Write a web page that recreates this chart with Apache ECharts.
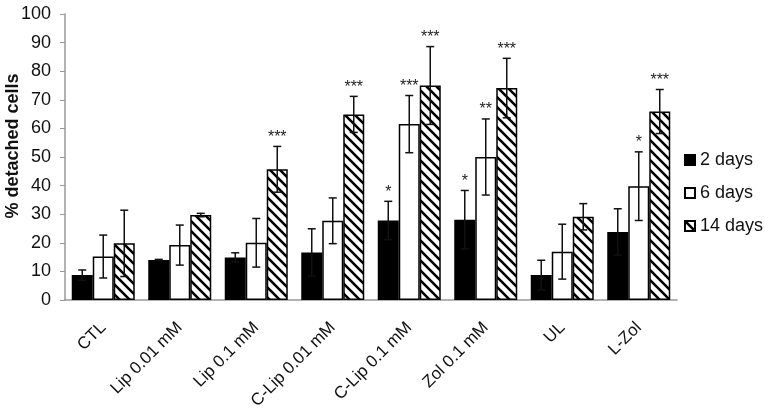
<!DOCTYPE html>
<html>
<head>
<meta charset="utf-8">
<script src="https://cdn.jsdelivr.net/npm/echarts@6/dist/echarts.min.js"></script>
<style>
  html, body { margin: 0; padding: 0; background: #fff; }
  #main { width: 765px; height: 411px; }
</style>
</head>
<body>
<div id="main"></div>
<script>
const categories = ['CTL', 'Lip 0.01 mM', 'Lip 0.1 mM', 'C-Lip 0.01 mM', 'C-Lip 0.1 mM', 'Zol 0.1 mM', 'UL', 'L-Zol'];
const yTicks = [0, 10, 20, 30, 40, 50, 60, 70, 80, 90, 100];

const days2 = [8.7, 14.0, 14.9, 16.6, 27.8, 28.1, 8.7, 23.8];
const days2Err = [1.8, 0.2, 1.6, 8.3, 6.7, 10.2, 5.2, 8.1];
const days2Stars = ['', '', '', '', '*', '*', '', ''];

const days6 = [15.2, 19.2, 20.0, 27.7, 61.5, 50.0, 16.9, 39.8];
const days6Err = [7.5, 7.0, 8.5, 8.0, 10.0, 13.3, 9.6, 12.0];
const days6Stars = ['', '', '', '', '***', '**', '', '*'];

const days14 = [19.8, 29.7, 45.7, 64.9, 75.0, 74.1, 29.1, 65.9];
const days14Err = [11.6, 0.6, 8.0, 6.3, 13.6, 10.4, 4.6, 7.7];
const days14Stars = ['', '', '***', '***', '***', '***', '', '***'];

const BAR_W = 21;

// diagonal hatch for the 14 days bars
function hatch() {
  const c = document.createElement('canvas');
  c.width = 10; c.height = 10;
  const ctx = c.getContext('2d');
  ctx.fillStyle = '#fff';
  ctx.fillRect(0, 0, 10, 10);
  ctx.strokeStyle = '#000';
  ctx.lineWidth = 2.6;
  ctx.beginPath();
  ctx.moveTo(-2, -2); ctx.lineTo(12, 12);
  ctx.moveTo(-2, 8); ctx.lineTo(2, 12);
  ctx.moveTo(8, -2); ctx.lineTo(12, 2);
  ctx.stroke();
  return c;
}

function errSeries(vals, errs, stars, offset) {
  return {
    type: 'custom',
    z: 5,
    silent: true,
    data: vals.map((v, i) => [i, v, errs[i]]),
    renderItem: function (params, api) {
      const i = api.value(0);
      const v = api.value(1);
      const e = api.value(2);
      const top = api.coord([i, v + e]);
      const bot = api.coord([i, v - e]);
      const x = top[0] + offset;
      const style = { stroke: '#111', lineWidth: 1.5 };
      const children = [
        { type: 'line', shape: { x1: x, y1: top[1], x2: x, y2: bot[1] }, style: style },
        { type: 'line', shape: { x1: x - 4, y1: top[1], x2: x + 4, y2: top[1] }, style: style },
        { type: 'line', shape: { x1: x - 4, y1: bot[1], x2: x + 4, y2: bot[1] }, style: style }
      ];
      const s = stars[params.dataIndex];
      if (s) {
        children.push({
          type: 'text',
          style: {
            x: x, y: top[1] - 1, text: s,
            align: 'center', verticalAlign: 'bottom',
            fontSize: 16, fontFamily: 'Liberation Sans', fill: '#222'
          }
        });
      }
      return { type: 'group', children: children };
    }
  };
}

const chart = echarts.init(document.getElementById('main'));
chart.setOption({
  animation: false,
  grid: { left: 65, right: 88, top: 14, bottom: 111, outerBoundsMode: 'none' },
  legend: {
    orient: 'vertical',
    left: 679,
    top: 146,
    itemWidth: 10,
    itemHeight: 10,
    itemGap: 15,
    icon: 'rect',
    textStyle: { fontSize: 18, fontFamily: 'Liberation Sans', color: '#111' },
    data: ['2 days', '6 days', '14 days']
  },
  xAxis: {
    type: 'category',
    data: categories,
    axisLine: { lineStyle: { color: '#999', width: 1.5 } },
    axisTick: { show: false },
    axisLabel: {
      rotate: 45, margin: 25, interval: 0,
      fontSize: 17, fontFamily: 'Liberation Sans', color: '#111'
    }
  },
  yAxis: {
    type: 'value',
    min: yTicks[0], max: yTicks[yTicks.length - 1], interval: 10,
    name: '% detached cells',
    nameLocation: 'middle',
    nameGap: 43,
    nameMoveOverlap: false,
    nameTextStyle: {
      fontSize: 18, fontWeight: 'bold', fontFamily: 'Liberation Sans', color: '#111',
      padding: [0, 0, 0, 22]
    },
    axisLine: { show: true, lineStyle: { color: '#999', width: 1.5 } },
    axisTick: { show: true, length: 5, lineStyle: { color: '#999' } },
    splitLine: { show: false },
    axisLabel: { fontSize: 18, fontFamily: 'Liberation Sans', color: '#111', margin: 14 }
  },
  series: [
    {
      name: '2 days', type: 'bar', data: days2, barWidth: BAR_W, barGap: '0%',
      itemStyle: { color: '#000', borderColor: '#000', borderWidth: 1.5 }
    },
    {
      name: '6 days', type: 'bar', data: days6, barWidth: BAR_W, barGap: '0%',
      itemStyle: { color: '#fff', borderColor: '#000', borderWidth: 1.5 }
    },
    {
      name: '14 days', type: 'bar', data: days14, barWidth: BAR_W, barGap: '0%',
      itemStyle: { color: { image: hatch(), repeat: 'repeat' }, borderColor: '#000', borderWidth: 1.5 }
    },
    errSeries(days2, days2Err, days2Stars, -BAR_W),
    errSeries(days6, days6Err, days6Stars, 0),
    errSeries(days14, days14Err, days14Stars, BAR_W)
  ]
});
</script>
</body>
</html>
